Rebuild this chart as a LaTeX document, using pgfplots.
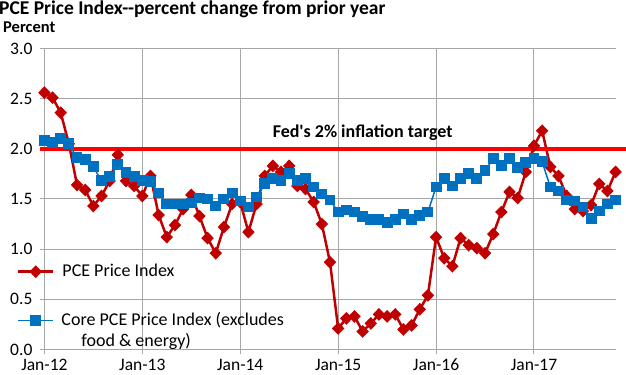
\documentclass[border=0pt]{standalone}
\usepackage{fontspec}
\setmainfont{Carlito}[Ligatures=TeXOff]
\usepackage{pgfplots}
\usepackage{pgfplotstable}
\pgfplotsset{compat=1.18}
\definecolor{pcered}{HTML}{C00000}
\definecolor{coreblue}{HTML}{0070C0}
\definecolor{gridgray}{HTML}{A6A6A6}
\definecolor{fedred}{HTML}{FF0000}

\pgfplotstableread{
m pce core
0 2.56 2.08
1 2.51 2.06
2 2.36 2.10
3 2.05 2.05
4 1.64 1.91
5 1.59 1.89
6 1.43 1.82
7 1.53 1.68
8 1.68 1.72
9 1.94 1.84
10 1.68 1.76
11 1.63 1.72
12 1.53 1.68
13 1.73 1.67
14 1.34 1.56
15 1.12 1.45
16 1.24 1.45
17 1.40 1.45
18 1.54 1.46
19 1.33 1.51
20 1.11 1.50
21 0.96 1.43
22 1.22 1.50
23 1.45 1.56
24 1.47 1.48
25 1.17 1.42
26 1.45 1.52
27 1.73 1.65
28 1.83 1.70
29 1.77 1.68
30 1.83 1.75
31 1.63 1.68
32 1.60 1.70
33 1.47 1.62
34 1.25 1.55
35 0.87 1.49
36 0.21 1.37
37 0.31 1.39
38 0.33 1.37
39 0.18 1.33
40 0.26 1.30
41 0.35 1.30
42 0.33 1.27
43 0.35 1.30
44 0.20 1.35
45 0.24 1.30
46 0.40 1.34
47 0.54 1.37
48 1.12 1.62
49 0.91 1.70
50 0.83 1.63
51 1.11 1.70
52 1.04 1.75
53 1.01 1.70
54 0.96 1.78
55 1.15 1.90
56 1.37 1.83
57 1.57 1.90
58 1.51 1.81
59 1.77 1.86
60 2.03 1.90
61 2.18 1.87
62 1.82 1.62
63 1.73 1.58
64 1.53 1.49
65 1.40 1.48
66 1.38 1.42
67 1.44 1.31
68 1.65 1.38
69 1.58 1.45
70 1.77 1.49
}\datatable

\pgfplotsset{
  base/.style={
    scale only axis, width=571.2bp, height=301bp,
    at={(44.4bp,25.5bp)}, anchor=south west,
    xmin=0, xmax=70, ymin=0, ymax=3,
    clip=false,
    legend cell align=left,
    legend image code/.code={\draw[mark repeat=2,mark phase=2,##1] plot coordinates {(0bp,0bp)(17.5bp,0bp)(35bp,0bp)};},
  },
  legstyle/.style={draw=none, fill=none, inner sep=0pt, outer sep=0pt,
    row sep=0pt, column sep=8bp, anchor=north west,
    font=\fontsize{18bp}{21bp}\selectfont,
    nodes={inner sep=0pt, text height=15bp, text depth=6bp}},
}

\begin{document}
\begin{tikzpicture}
\useasboundingbox (0,0) rectangle (626bp,375bp);
\node[anchor=base west, inner sep=0pt, font=\fontsize{19.5bp}{22bp}\selectfont\bfseries] at (-1bp,360.5bp) {PCE Price Index--percent change from prior year};
\node[anchor=base west, inner sep=0pt, font=\fontsize{16.5bp}{20bp}\selectfont\bfseries] at (3bp,342bp) {Percent};
\begin{axis}[base,
  axis x line=bottom, axis y line=left,
  axis line style={gridgray, line width=1bp, -},
  xtick={0,12,24,36,48,60},
  xticklabels={Jan-12,Jan-13,Jan-14,Jan-15,Jan-16,Jan-17},
  ytick={0,0.5,1,1.5,2,2.5,3},
  grid=major, grid style={gridgray, line width=1bp},
  tick style={gridgray, line width=1bp}, tick align=outside, major tick length=4.5bp,
  /pgf/number format/assume math mode=true,
  yticklabel={\pgfmathprintnumber[fixed, fixed zerofill, precision=1]{\tick}},
  ticklabel style={font=\fontsize{17.5bp}{21bp}\selectfont, text=black},
  yticklabel style={xshift=-4bp},
  xticklabel style={yshift=-1.5bp},
  legend style={legstyle, at={(-0.048,0.2934)}},
]
\addplot[pcered, line width=2.5bp, mark=diamond*, mark size=4.6bp, mark options={xscale=1.3, solid}] table[x=m, y=pce] {\datatable};
\addlegendentry{PCE Price Index}
\addplot[fedred, line width=3.5bp, no marks, forget plot] coordinates {(-0.54,2) (71.3,2)};
\node[font=\fontsize{18bp}{21bp}\selectfont\bfseries, inner sep=0pt] at (axis cs:39,2.16) {Fed's 2\% inflation target};
\end{axis}
\begin{axis}[base, hide axis,
  legend style={legstyle, at={(-0.048,0.1312)}},
]
\addplot[coreblue, line width=1.5bp, mark=square*, mark size=4.7bp, mark options={solid}] table[x=m, y=core] {\datatable};
\addlegendentry{Core PCE Price Index (excludes}
\addlegendimage{empty legend}
\addlegendentry{\hspace*{20bp}food \& energy)}
\end{axis}
\end{tikzpicture}
\end{document}
